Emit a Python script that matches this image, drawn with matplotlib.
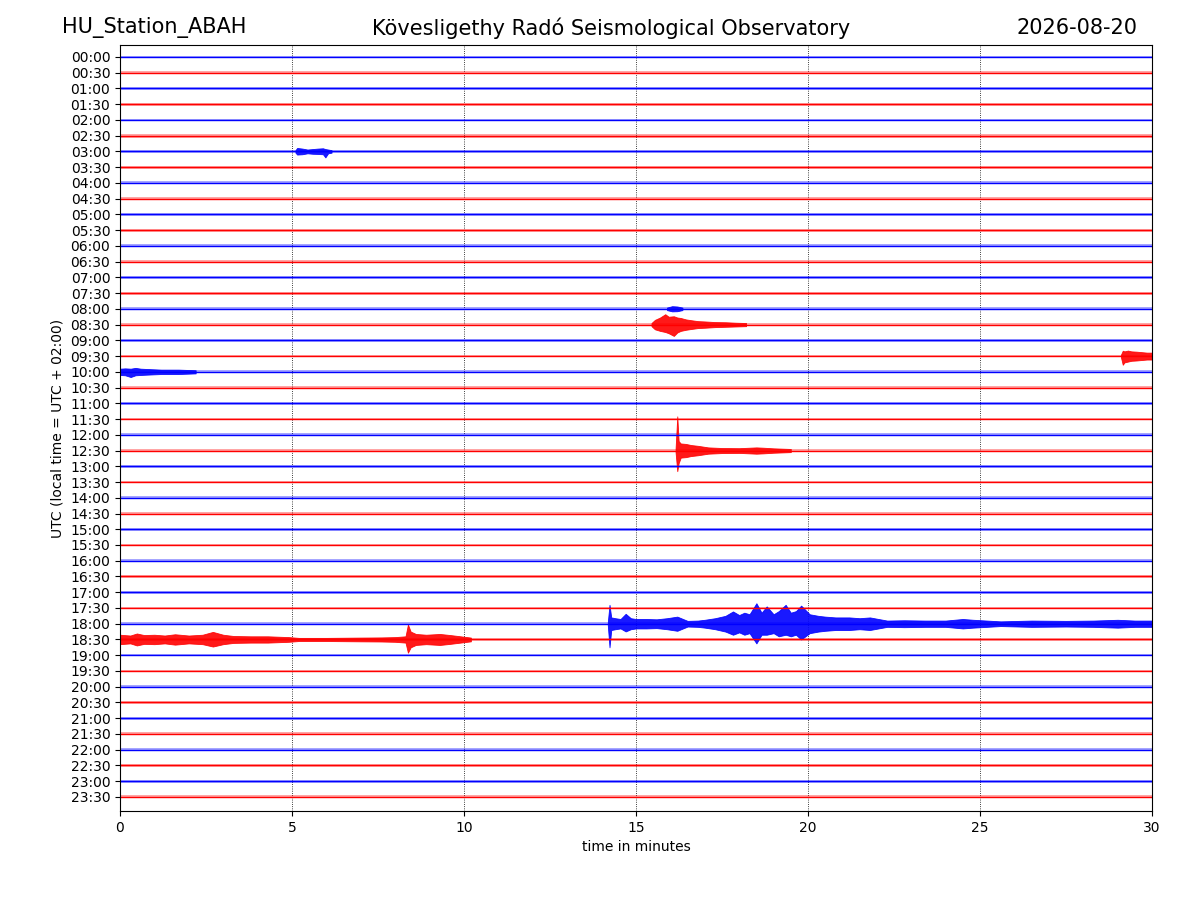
import matplotlib
matplotlib.use('Agg')
import matplotlib.pyplot as plt

# rows of the helicorder, one every 30 minutes
row_labels = ['%02d:%02d' % (h, m) for h in range(24) for m in (0, 30)]
row_colors = ['blue', 'red'] * 24

# background noise half-width per row (in row units)
noise_level = [0.09, 0.10, 0.10, 0.10, 0.08, 0.12, 0.09, 0.09,
               0.09, 0.09, 0.09, 0.09, 0.09, 0.09, 0.09, 0.09,
               0.09, 0.09, 0.09, 0.08, 0.10, 0.09, 0.09, 0.09,
               0.09, 0.09, 0.09, 0.09, 0.09, 0.09, 0.09, 0.09,
               0.09, 0.09, 0.09, 0.09, 0.09, 0.09, 0.08, 0.09,
               0.09, 0.09, 0.09, 0.09, 0.09, 0.09, 0.09, 0.10]

# event envelopes: minutes, amplitude above / below the trace (row units)
ev0300_t  = [5.10, 5.15, 5.30, 5.45, 5.60, 5.75, 5.90, 5.97, 6.05, 6.15]
ev0300_up = [0.08, 0.22, 0.18, 0.12, 0.15, 0.18, 0.20, 0.15, 0.12, 0.08]
ev0300_dn = [0.08, 0.20, 0.18, 0.12, 0.15, 0.16, 0.18, 0.38, 0.12, 0.08]

ev0800_t  = [15.90, 16.05, 16.20, 16.35]
ev0800_up = [0.08, 0.17, 0.15, 0.08]
ev0800_dn = [0.08, 0.16, 0.15, 0.08]

ev0830_t  = [15.45, 15.55, 15.70, 15.85, 15.95, 16.10, 16.20, 16.30,
             16.45, 16.60, 16.80, 17.00, 17.30, 17.60, 17.90, 18.20]
ev0830_up = [0.10, 0.30, 0.45, 0.66, 0.50, 0.53, 0.45, 0.42,
             0.33, 0.28, 0.22, 0.20, 0.16, 0.15, 0.12, 0.10]
ev0830_dn = [0.10, 0.30, 0.40, 0.47, 0.55, 0.72, 0.50, 0.40,
             0.33, 0.28, 0.22, 0.20, 0.16, 0.14, 0.12, 0.10]

ev0930_t  = [29.10, 29.15, 29.20, 29.30, 29.40, 29.55, 29.70, 29.85, 30.00]
ev0930_up = [0.10, 0.34, 0.30, 0.35, 0.30, 0.28, 0.25, 0.22, 0.22]
ev0930_dn = [0.10, 0.55, 0.40, 0.35, 0.30, 0.28, 0.25, 0.22, 0.22]

ev1000_t  = [0.00, 0.15, 0.31, 0.45, 0.60, 0.78, 1.20, 1.70, 2.20]
ev1000_up = [0.20, 0.22, 0.20, 0.25, 0.20, 0.18, 0.14, 0.14, 0.10]
ev1000_dn = [0.20, 0.22, 0.33, 0.22, 0.20, 0.18, 0.14, 0.14, 0.10]

ev1230_t  = [16.15, 16.20, 16.24, 16.30, 16.45, 16.60, 16.80,
             17.10, 17.50, 18.00, 18.50, 18.70, 19.00, 19.50]
ev1230_up = [0.10, 2.17, 0.60, 0.45, 0.42, 0.35, 0.30,
             0.20, 0.16, 0.15, 0.20, 0.18, 0.14, 0.10]
ev1230_dn = [0.10, 1.31, 0.80, 0.45, 0.42, 0.35, 0.30,
             0.20, 0.16, 0.15, 0.20, 0.18, 0.14, 0.10]

ev1800_t  = [14.18, 14.23, 14.28, 14.40, 14.55, 14.70, 14.85, 15.00, 15.30, 15.60,
             15.90, 16.20, 16.50, 16.80, 17.00, 17.30, 17.60, 17.82, 18.00, 18.15,
             18.30, 18.50, 18.65, 18.80, 19.00, 19.15, 19.35, 19.50, 19.65, 19.80,
             20.05, 20.30, 20.50, 20.80, 21.20, 21.50, 21.80, 22.30, 22.80, 23.40,
             24.00, 24.50, 24.80, 25.60, 26.50, 27.50, 28.30, 29.00, 29.50, 30.00]
ev1800_up = [0.10, 1.20, 0.40, 0.35, 0.30, 0.63, 0.35, 0.30, 0.30, 0.28,
             0.35, 0.45, 0.18, 0.20, 0.25, 0.35, 0.50, 0.78, 0.55, 0.70,
             0.60, 1.30, 0.70, 1.10, 0.60, 0.80, 1.20, 0.70, 0.80, 1.15,
             0.60, 0.50, 0.45, 0.40, 0.40, 0.35, 0.40, 0.20, 0.22, 0.20,
             0.20, 0.30, 0.25, 0.15, 0.20, 0.18, 0.20, 0.25, 0.20, 0.20]
ev1800_dn = [0.10, 1.50, 0.40, 0.35, 0.30, 0.49, 0.35, 0.30, 0.30, 0.28,
             0.35, 0.45, 0.18, 0.20, 0.25, 0.35, 0.50, 0.70, 0.55, 0.70,
             0.60, 1.25, 0.70, 0.70, 0.60, 0.80, 0.70, 0.80, 0.70, 1.00,
             0.60, 0.50, 0.45, 0.40, 0.40, 0.35, 0.40, 0.20, 0.22, 0.20,
             0.20, 0.30, 0.25, 0.15, 0.20, 0.18, 0.20, 0.25, 0.20, 0.20]

ev1830_t  = [0.00, 0.30, 0.49, 0.70, 1.00, 1.30, 1.60, 2.00, 2.40, 2.70,
             3.00, 3.30, 3.80, 4.30, 4.90, 5.20, 6.00, 7.00, 7.60, 8.00,
             8.30, 8.37, 8.45, 8.60, 8.90, 9.30, 9.60, 9.90, 10.20]
ev1830_up = [0.30, 0.25, 0.38, 0.28, 0.30, 0.25, 0.33, 0.25, 0.30, 0.48,
             0.30, 0.22, 0.20, 0.20, 0.15, 0.10, 0.10, 0.12, 0.13, 0.15,
             0.20, 0.95, 0.50, 0.35, 0.30, 0.35, 0.28, 0.20, 0.12]
ev1830_dn = [0.30, 0.25, 0.38, 0.28, 0.30, 0.25, 0.33, 0.25, 0.30, 0.45,
             0.30, 0.22, 0.20, 0.20, 0.15, 0.10, 0.10, 0.12, 0.13, 0.15,
             0.20, 0.84, 0.50, 0.35, 0.30, 0.35, 0.28, 0.20, 0.12]

events = [
    (6, ev0300_t, ev0300_up, ev0300_dn),
    (16, ev0800_t, ev0800_up, ev0800_dn),
    (17, ev0830_t, ev0830_up, ev0830_dn),
    (19, ev0930_t, ev0930_up, ev0930_dn),
    (20, ev1000_t, ev1000_up, ev1000_dn),
    (25, ev1230_t, ev1230_up, ev1230_dn),
    (36, ev1800_t, ev1800_up, ev1800_dn),
    (37, ev1830_t, ev1830_up, ev1830_dn),
]

minutes = [0, 30]

fig = plt.figure(figsize=(12, 9), dpi=100)
ax = fig.add_axes([0.1, 0.099, 0.86, 0.851])

# plain traces
for i, (lab, col) in enumerate(zip(row_labels, row_colors)):
    y = -i
    ax.fill_between(minutes, [y - noise_level[i]] * 2, [y + noise_level[i]] * 2,
                    color=col, alpha=0.35, lw=0)
    ax.plot(minutes, [y, y], color=col, lw=1.0)

# events on top
for row, t, up, dn in events:
    y = -row
    col = row_colors[row]
    ax.fill_between(t, [y + u for u in up], [y - d for d in dn],
                    color=col, alpha=0.9, lw=0.6, edgecolor=col)

ax.set_xlim(0, 30)
ax.set_ylim(-47.89, 0.76)
ax.set_xticks([0, 5, 10, 15, 20, 25, 30])
ax.set_yticks([-i for i in range(len(row_labels))])
ax.set_yticklabels(row_labels)
ax.grid(axis='x', linestyle=':', color='black', lw=0.6)
ax.set_axisbelow(True)
ax.set_xlabel('time in minutes')
ax.set_ylabel('UTC (local time = UTC + 02:00)')

fig.text(0.052, 0.969, 'HU_Station_ABAH', fontsize=15, ha='left', va='center')
fig.text(0.509, 0.969, 'Kövesligethy Radó Seismological Observatory',
         fontsize=15, ha='center', va='center')
fig.text(0.9475, 0.969, '2026-08-20', fontsize=15, ha='right', va='center')

fig.savefig('out.png', dpi=100)
